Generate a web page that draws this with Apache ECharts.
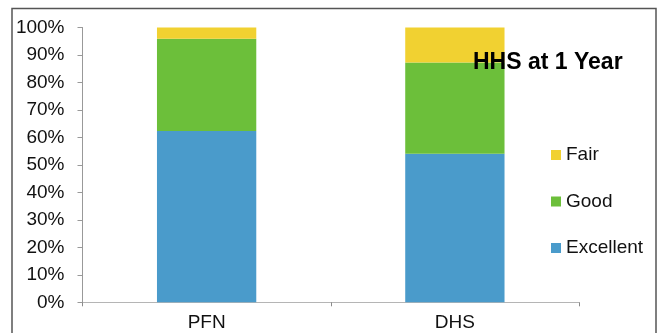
<!DOCTYPE html>
<html>
<head>
<meta charset="utf-8">
<script src="https://cdn.jsdelivr.net/npm/echarts@6/dist/echarts.min.js"></script>
<style>
  html, body { margin: 0; padding: 0; background: #ffffff; }
  #chart { width: 663px; height: 333px; }
</style>
</head>
<body>
<div id="chart"></div>
<script>
// Hip health score one year after surgery, share of patients per rating
const categories = ['PFN', 'DHS'];
const excellent = [62.3, 54.1];
const good = [33.6, 33.2];
const fair = [4.1, 12.7];
const legendOrder = ['Fair', 'Good', 'Excellent'];
const yTicks = [0, 10, 20, 30, 40, 50, 60, 70, 80, 90, 100];

const font = '"Liberation Sans", Arial, sans-serif';
const axisGray = '#999999';

const chart = echarts.init(document.getElementById('chart'), null, { renderer: 'canvas' });

function stackSeries(name, values, color) {
  return {
    name: name,
    type: 'bar',
    stack: 'total',
    barWidth: '40%',
    data: values,
    itemStyle: { color: color },
    emphasis: { disabled: true }
  };
}

chart.setOption({
  animation: false,
  backgroundColor: '#ffffff',
  title: {
    text: 'HHS at 1 Year',
    left: 473,
    top: 51,
    padding: 0,
    textStyle: { fontFamily: font, fontSize: 23, fontWeight: 'bold', color: '#000000' }
  },
  legend: {
    data: legendOrder,
    orient: 'vertical',
    left: 546,
    top: 140,
    itemWidth: 10,
    itemHeight: 10,
    itemGap: 26.5,
    icon: 'rect',
    itemStyle: { borderWidth: 0 },
    textStyle: { fontFamily: font, fontSize: 19, color: '#111111', lineHeight: 20 },
    selectedMode: false
  },
  grid: { left: 82.5, right: 84, top: 27.5, bottom: 30.7, containLabel: false },
  xAxis: {
    type: 'category',
    data: categories,
    boundaryGap: true,
    axisLine: { lineStyle: { color: '#b5b5b5', width: 1 } },
    axisTick: { show: true, length: 4, lineStyle: { color: '#8a8a8a' } },
    axisLabel: { fontFamily: font, fontSize: 19, color: '#111111', margin: 11 }
  },
  yAxis: {
    type: 'value',
    min: yTicks[0],
    max: yTicks[yTicks.length - 1],
    interval: yTicks[1] - yTicks[0],
    axisLine: { show: true, lineStyle: { color: axisGray, width: 1 } },
    axisTick: { show: true, length: 5, lineStyle: { color: axisGray } },
    splitLine: { show: false },
    axisLabel: {
      fontFamily: font, fontSize: 19, color: '#111111', margin: 18,
      formatter: function (v) { return v + '%'; }
    }
  },
  series: [
    stackSeries('Excellent', excellent, '#4a9bcb'),
    stackSeries('Good', good, '#6cbf3a'),
    stackSeries('Fair', fair, '#f1d131')
  ],
  graphic: [{
    type: 'rect',
    silent: true,
    shape: { x: 12, y: 8.5, width: 644, height: 340 },
    style: { fill: 'none', stroke: '#555555', lineWidth: 1.5 },
    z: 100
  }]
});
</script>
</body>
</html>
